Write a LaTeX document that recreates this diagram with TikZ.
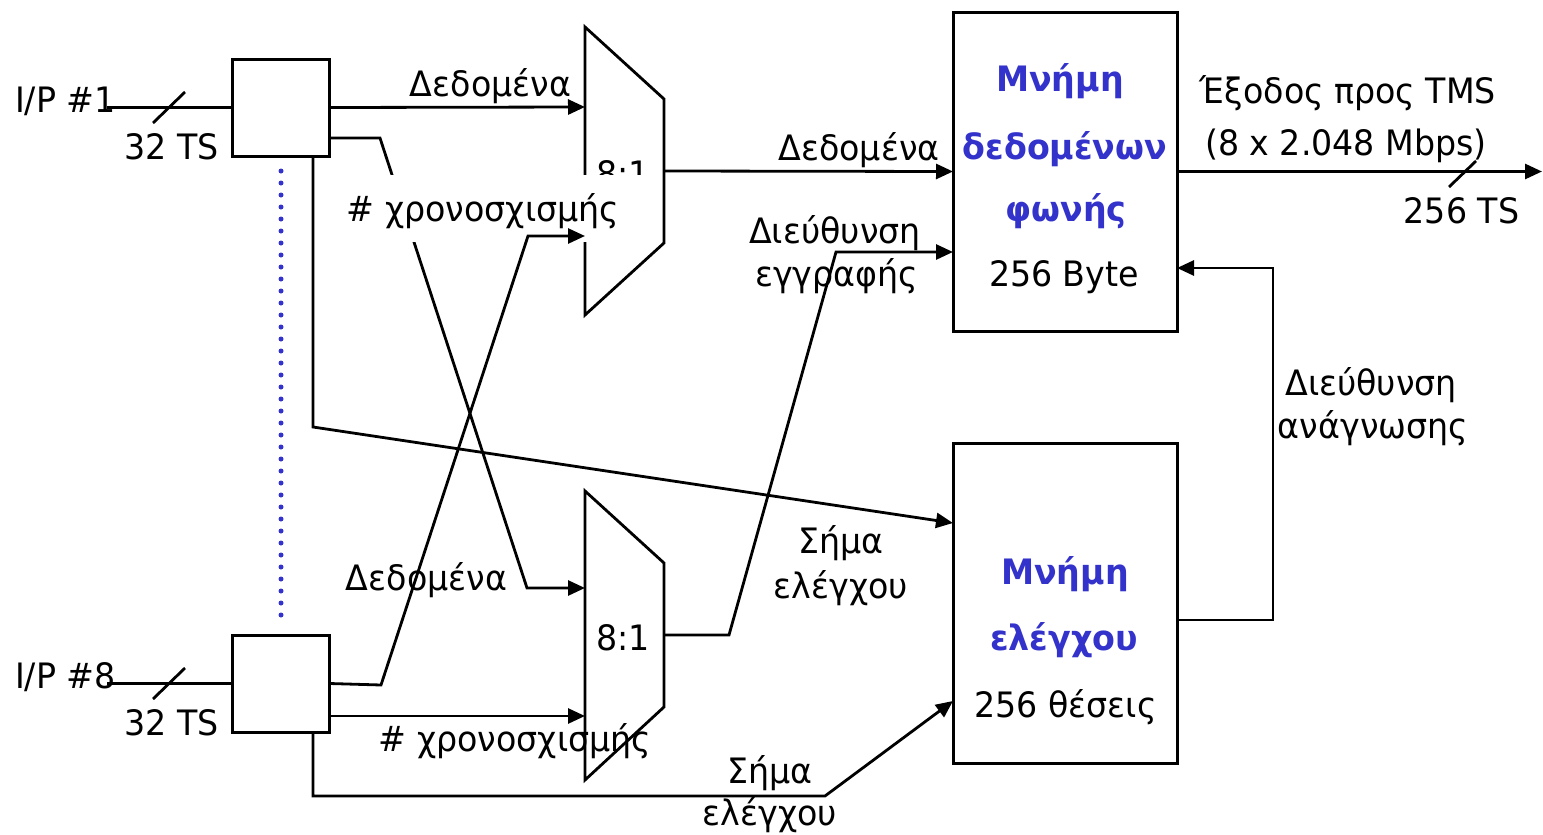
\documentclass[tikz,border=0pt]{standalone}
\usepackage{fontspec}
\setmainfont{DejaVu Sans}[FakeStretch=0.95]
\usetikzlibrary{arrows.meta,calc}
\definecolor{memblue}{RGB}{51,51,204}
\begin{document}
\begin{tikzpicture}[x=1pt,y=-1pt,
  font=\fontsize{35}{40}\selectfont,
  conn/.style={line width=2.8pt},
  arr/.style={conn,-{Triangle[length=17pt,width=15pt]}},
  inbox/.style={draw,line width=3pt,minimum width=97pt,minimum height=97pt,inner sep=0pt,outer sep=0pt},
  membox/.style={draw,line width=3pt,minimum width=224pt,inner sep=0pt,outer sep=0pt},
  lbl/.style={anchor=base,inner sep=0pt},
  ttl/.style={anchor=base,inner sep=0pt,text=memblue,font=\fontsize{35}{40}\selectfont\bfseries},
  mux/.style={line width=2.8pt}]
\useasboundingbox (0,0) rectangle (1543,835);

% input boxes
\node[inbox] (b1) at (280.5,107.5) {};
\node[inbox] (b8) at (281,683.5) {};
% memories
\node[membox,minimum height=319pt] (mem) at (1065,171.5) {};
\node[membox,minimum height=320pt] (ctrl) at (1065,603) {};

% multiplexers
\draw[mux] (585,27) -- (664,99) -- (664,243) -- (585,315) -- cycle;
\draw[mux] (585,491) -- (664,563) -- (664,707) -- (585,780) -- cycle;
\coordinate (m1in1) at (585,107);
\coordinate (m1in2) at (585,236);
\coordinate (m1out) at (664,171);
\coordinate (m2in1) at (585,588);
\coordinate (m2in2) at (585,716);
\coordinate (m2out) at (664,635);
\node[lbl] (mx1) at (623,186) {8:1};
\node[lbl] (mx2) at (623,650) {8:1};

% box1 -> mux2 (under the white label)
\draw[arr] ($(b1.north east)+(0,79)$) -- (380,138) -- (527,588) -- (m2in1);

% white-backed label
\node[anchor=base,fill=white,inner sep=0pt,inner xsep=32pt,text height=46.7pt,text depth=20.3pt] (ts1) at (483,221.7) {\# χρονοσχισμής};

% inputs
\coordinate (i1) at (107,107.5);
\coordinate (i8) at (107,683.5);
\draw[conn] (i1) -- (b1.west);
\draw[conn] (i8) -- (b8.west);
\draw[conn] (153,123) -- (185,92);
\draw[conn] (153,699) -- (185,668);
\node[lbl] (ip1) at (65.5,112) {I/P \#1};
\node[lbl] (ts32a) at (171.5,159) {32 TS};
\node[lbl] (ip8) at (65.5,688) {I/P \#8};
\node[lbl] (ts32b) at (171.5,735) {32 TS};

% dotted separator
\draw[memblue,line width=5pt,line cap=round,dash pattern=on 0pt off 12pt] (281,171) -- (281,616);

% box1 connections
\draw[arr] (b1.east) -- (m1in1);
\draw[arr] ($(b1.south)+(32.5,0)$) -- (313,427) -- ($(ctrl.north west)+(0,80)$);
\node[lbl] at (490.5,96) {Δεδομένα};

% box8 connections
\draw[arr] (b8.east) -- (381,685) -- (528,236) -- (m1in2);
\draw[arr] ($(b8.north east)+(0,81)$) -- (m2in2);
\draw[arr] ($(b8.south)+(32,0)$) -- (313,796) -- (825,796) -- ($(ctrl.south west)+(0,-62)$);
\node[lbl] at (426.5,590.5) {Δεδομένα};
\node[lbl] at (515,751.5) {\# χρονοσχισμής};
\node[lbl] at (770,783) {Σήμα};
\node[lbl] at (770,825) {ελέγχου};

% mux outputs
\draw[arr] (m1out) -- (mem.west);
\node[lbl] at (859,160.5) {Δεδομένα};
\draw[arr] (m2out) -- (729,635) -- (836,252) -- ($(mem.north west)+(0,240)$);
\node[lbl] at (835,243) {Διεύθυνση};
\node[lbl] at (836.5,286) {εγγραφής};
\node[lbl] at (841,553) {Σήμα};
\node[lbl] at (841,598) {ελέγχου};

% memory texts
\node[ttl] at (1060,91.5) {Μνήμη};
\node[ttl] at (1065,159.5) {δεδομένων};
\node[ttl] at (1066,221) {φωνής};
\node[lbl] at (1064,286.5) {256 Byte};
\node[ttl] at (1065,584) {Μνήμη};
\node[ttl] at (1064,650.5) {ελέγχου};
\node[lbl] at (1065.5,717) {256 θέσεις};

% output
\coordinate (out) at (1542,171.5);
\draw[arr] (mem.east) -- (out);
\draw[conn] (1449,187) -- (1476,161);
\node[lbl] at (1348,103.5) {Έξοδος προς TMS};
\node[lbl] at (1346,155) {(8 x 2.048 Mbps)};
\node[lbl] at (1461.5,223) {256 TS};

% read address loop
\draw[arr] ($(ctrl.north east)+(0,177)$) -- (1273,620) -- (1273,268) -- ($(mem.north east)+(0,256)$);
\node[lbl] at (1371,395) {Διεύθυνση};
\node[lbl] at (1373,438) {ανάγνωσης};
\end{tikzpicture}
\end{document}
